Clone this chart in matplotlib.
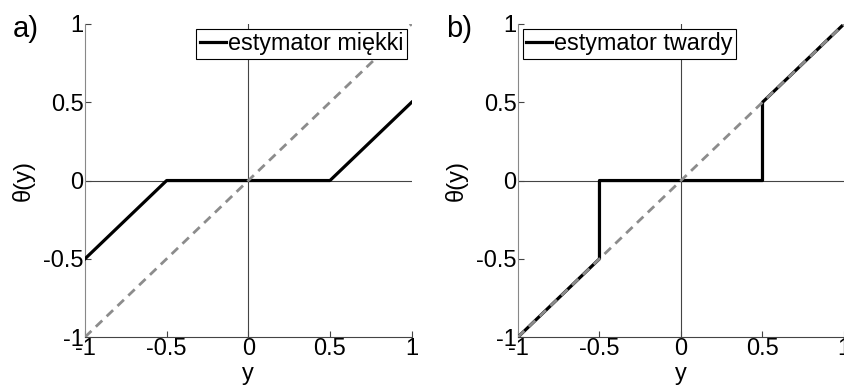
import numpy as np
import matplotlib.pyplot as plt

plt.rcParams['font.family'] = ['Liberation Sans', 'DejaVu Sans']

# soft threshold (lambda = 0.5)
soft_x = [-1, -0.5, 0.5, 1]
soft_y = [-0.5, 0, 0, 0.5]
# hard threshold (lambda = 0.5)
hard_x = [-1, -0.5, -0.5, 0.5, 0.5, 1]
hard_y = [-1, -0.5, 0, 0, 0.5, 1]
# identity reference
ident_x = [-1, 1]
ident_y = [-1, 1]

ticks = [-1, -0.5, 0, 0.5, 1]
tick_labels = ['-1', '-0.5', '0', '0.5', '1']

panels = [
    ('a)', soft_x, soft_y, 'estymator miękki', 'upper right'),
    ('b)', hard_x, hard_y, 'estymator twardy', 'upper left'),
]

fig = plt.figure(figsize=(8.44, 3.87), dpi=100)
boxes = [[0.1007, 0.129, 0.387, 0.809], [0.6137, 0.129, 0.3863, 0.809]]

for box, (tag, xs, ys, name, loc) in zip(boxes, panels):
    ax = fig.add_axes(box)
    ax.axhline(0, color='#444444', lw=0.8, zorder=1)
    ax.axvline(0, color='#444444', lw=0.8, zorder=1)
    ax.plot(xs, ys, color='black', lw=2.3, label=name, zorder=3)
    ax.plot(ident_x, ident_y, color='#8c8c8c', lw=2.0, ls=(0, (3.2, 2.2)), zorder=4)
    ax.set_xlim(-1, 1)
    ax.set_ylim(-1, 1)
    ax.set_xticks(ticks)
    ax.set_xticklabels(tick_labels)
    ax.set_yticks(ticks)
    ax.set_yticklabels(tick_labels)
    ax.spines['top'].set_visible(False)
    ax.spines['right'].set_visible(False)
    ax.spines['left'].set_color('#888888')
    ax.spines['bottom'].set_color('#444444')
    ax.tick_params(direction='in', length=4, labelsize=17, pad=1, colors='#444444',
                   labelcolor='black')
    ax.set_xlabel('y', fontsize=17, labelpad=2)
    ax.set_ylabel('θ(y)', fontsize=17, labelpad=6)
    leg = ax.legend(loc=loc, fontsize=16.8, handlelength=1.1, handletextpad=0.1,
                    borderaxespad=0.2, borderpad=0.15, fancybox=False, framealpha=1)
    leg.get_frame().set_edgecolor('black')
    leg.get_frame().set_linewidth(0.8)
    ax.text(-0.22, 0.985, tag, transform=ax.transAxes, fontsize=21,
            ha='left', va='center')

fig.savefig('out.png', dpi=100)
